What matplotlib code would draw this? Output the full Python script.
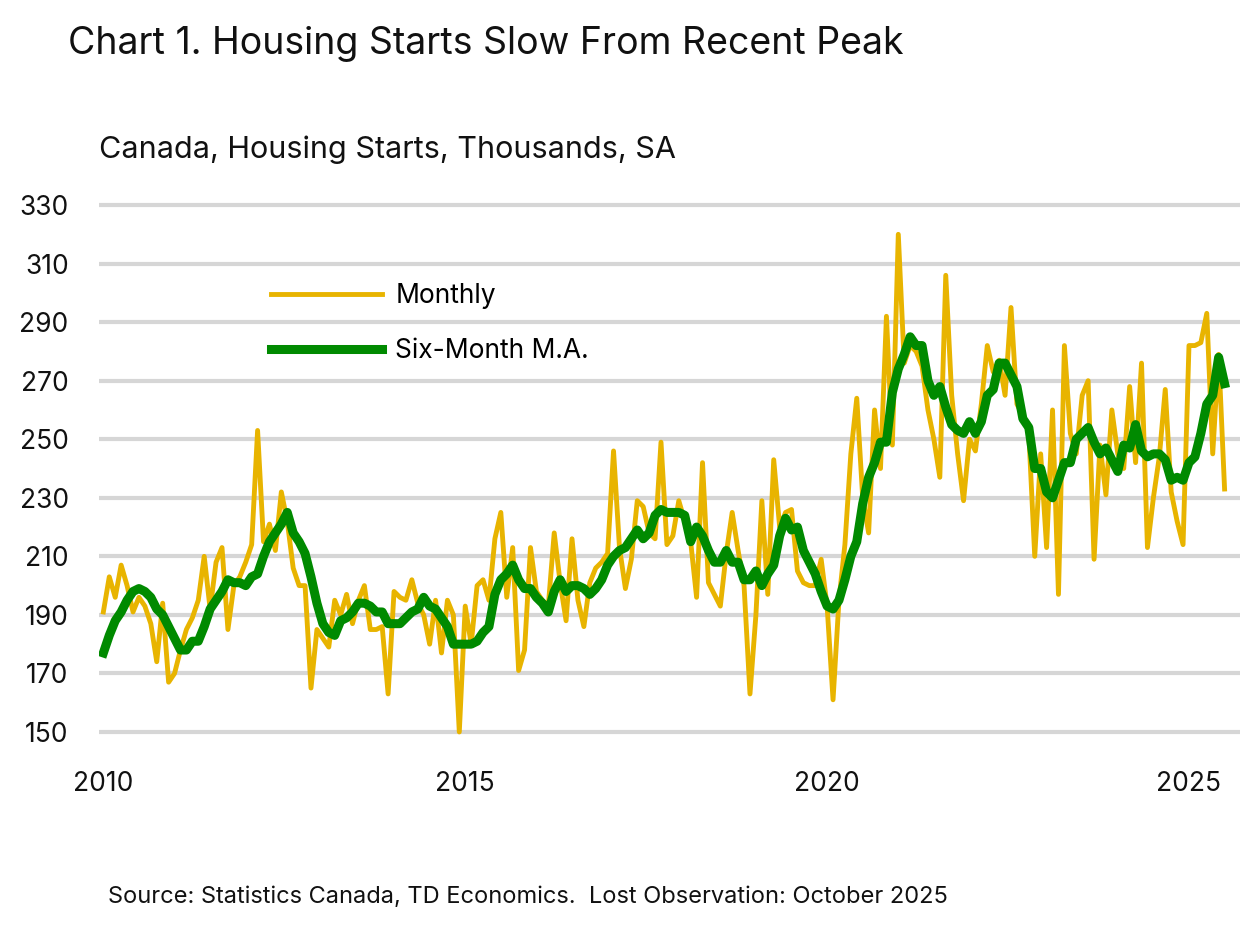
import matplotlib.pyplot as plt

plt.rcParams['font.family'] = ['Inter', 'DejaVu Sans']

# monthly housing starts, Jan 2010 - Oct 2025 (thousands, SA)
monthly = [
    191, 203, 196, 207, 200, 191, 196, 193, 187, 174, 194, 167,
    170, 178, 185, 189, 195, 210, 192, 208, 213, 185, 200, 203,
    208, 214, 253, 215, 221, 212, 232, 222, 206, 200, 200, 165,
    185, 182, 179, 195, 190, 197, 187, 195, 200, 185, 185, 186,
    163, 198, 196, 195, 202, 194, 190, 180, 195, 177, 195, 190,
    150, 193, 180, 200, 202, 195, 216, 225, 196, 213, 171, 178,
    213, 198, 195, 193, 218, 201, 188, 216, 195, 186, 201, 206,
    208, 211, 246, 213, 199, 209, 229, 227, 218, 216, 249, 214,
    217, 229, 222, 215, 196, 242, 201, 197, 193, 211, 225, 212,
    200, 163, 190, 229, 197, 243, 220, 225, 226, 205, 201, 200,
    200, 209, 193, 161, 195, 214, 245, 264, 230, 218, 260, 240,
    292, 248, 320, 276, 282, 280, 275, 260, 250, 237, 306, 265,
    245, 229, 250, 246, 262, 282, 273, 277, 265, 295, 262, 258,
    252, 210, 245, 213, 260, 197, 282, 252, 245, 265, 270, 209,
    248, 231, 260, 245, 240, 268, 242, 276, 213, 230, 244, 267,
    232, 222, 214, 282, 282, 283, 293, 245, 279, 233,
]
six_month_ma = [
    177, 183, 188, 191, 195, 198, 199, 198, 196, 192, 190, 186,
    182, 178, 178, 181, 181, 186, 192, 195, 198, 202, 201, 201,
    200, 203, 204, 210, 215, 218, 221, 225, 218, 215, 211, 203,
    194, 187, 184, 183, 188, 189, 191, 194, 194, 193, 191, 191,
    187, 187, 187, 189, 191, 192, 196, 193, 192, 189, 186, 180,
    180, 180, 180, 181, 184, 186, 197, 202, 204, 207, 202, 199,
    199, 196, 194, 191, 198, 202, 198, 200, 200, 199, 197, 199,
    202, 207, 210, 212, 213, 216, 219, 216, 218, 224, 226, 225,
    225, 225, 224, 215, 220, 217, 212, 208, 208, 212, 208, 208,
    202, 202, 205, 200, 204, 207, 217, 223, 219, 220, 212, 208,
    204, 198, 193, 192, 195, 202, 210, 215, 228, 237, 242, 249,
    249, 266, 274, 279, 285, 282, 282, 270, 265, 268, 261, 255,
    253, 252, 256, 252, 256, 265, 267, 276, 276, 272, 268, 257,
    254, 240, 240, 232, 230, 236, 242, 242, 250, 252, 254, 249,
    245, 247, 243, 239, 248, 247, 255, 246, 244, 245, 245, 243,
    236, 237, 236, 242, 244, 252, 262, 265, 278, 269,
]
year_labels = ['2010', '2015', '2020', '2025']
year_pos = [0, 61, 122, 183]
y_ticks = list(range(150, 331, 20))

fig = plt.figure(figsize=(12.4, 9.25), dpi=100)
ax = fig.add_axes([0.08, 0.196, 0.92, 0.595])

x = list(range(len(monthly)))
ax.plot(x, monthly, color='#E8B400', lw=3.5, label='Monthly', zorder=3)
ax.plot(x, six_month_ma, color='#008A00', lw=6.5, label='Six-Month M.A.', zorder=4)

ax.set_xlim(-0.7, 191.6)
ax.set_ylim(146, 334)
ax.set_yticks(y_ticks)
ax.set_xticks(year_pos)
ax.set_xticklabels(year_labels)
ax.grid(axis='y', color='#D6D6D6', lw=3)
ax.set_axisbelow(True)
for s in ax.spines.values():
    s.set_visible(False)
ax.tick_params(length=0, labelsize=19, colors='#111111')
ax.tick_params(axis='y', pad=22)
ax.tick_params(axis='x', pad=20)

ax.legend(loc='upper left', bbox_to_anchor=(0.13, 0.88), frameon=False,
          fontsize=19, handlelength=4.2, labelspacing=1.1, handletextpad=0.5)

fig.text(0.055, 0.952, 'Chart 1. Housing Starts Slow From Recent Peak',
         fontsize=27, va='center', color='#111111')
fig.text(0.08, 0.838, 'Canada, Housing Starts, Thousands, SA',
         fontsize=22, va='center', color='#111111')
fig.text(0.087, 0.03, 'Source: Statistics Canada, TD Economics.  Lost Observation: October 2025',
         fontsize=17, va='center', color='#111111')

fig.savefig('out.png', dpi=100)
